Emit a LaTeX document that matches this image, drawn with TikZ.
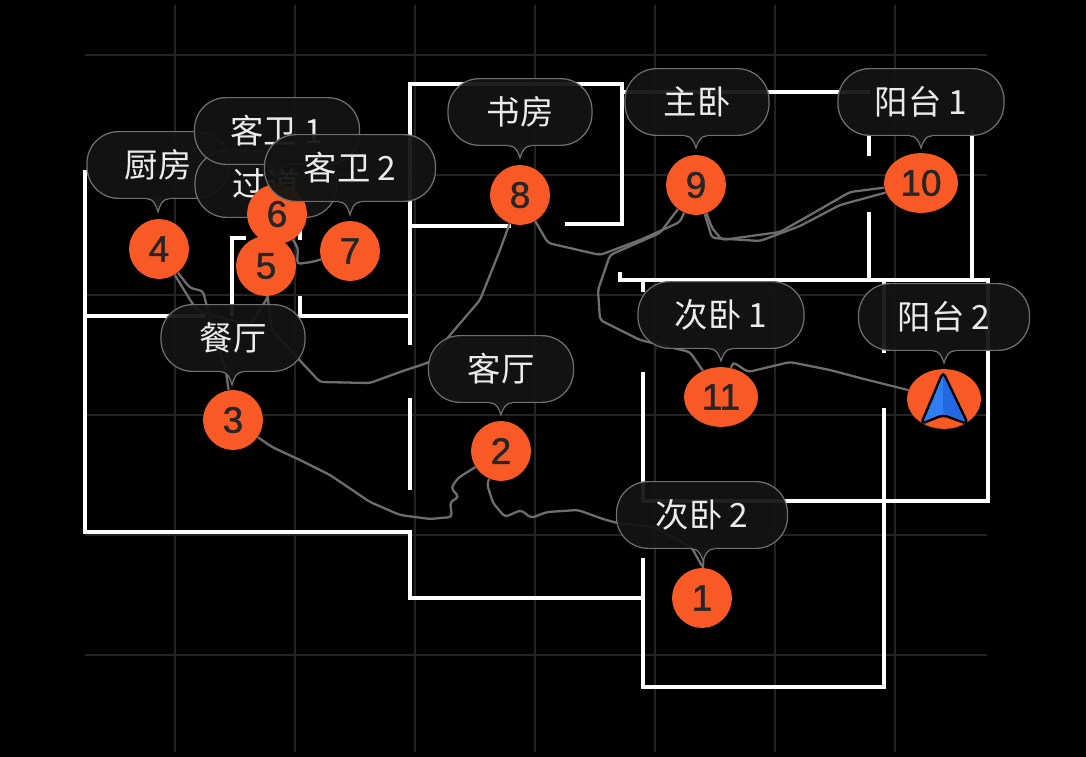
\documentclass[tikz,border=0pt]{standalone}
\usepackage{fontspec}
\setmainfont{Noto Sans CJK SC}
\newfontfamily\numfont[FakeBold=1.3]{Liberation Sans}
\usetikzlibrary{backgrounds,shapes.geometric}
\definecolor{gridgray}{HTML}{232323}
\definecolor{trackgray}{HTML}{6E6E6E}
\definecolor{bubblefill}{HTML}{141414}
\definecolor{bubbleline}{HTML}{707070}
\definecolor{pinorange}{HTML}{F95A25}
\definecolor{navlight}{HTML}{2F7FF2}
\definecolor{navdark}{HTML}{2368E0}

\begin{document}
\begin{tikzpicture}[x=0.02cm,y=-0.02cm]
    \tikzstyle{bubble}=[rectangle,rounded corners=18pt,draw=bubbleline,line width=0.7pt,fill=bubblefill,fill opacity=0.94,text opacity=1,text=white!92!black,minimum height=38pt,inner sep=0pt,font=\fontsize{19}{22}\selectfont]
    \tikzstyle{pin}=[circle,fill=pinorange,minimum size=34pt,inner sep=0pt,text=black!85,font=\numfont\fontsize{21}{24}\selectfont]
    \tikzstyle{widepin}=[pin,ellipse,minimum width=42pt,minimum height=34pt]
    \tikzstyle{wall}=[white,line width=2.3pt]
    \tikzstyle{track}=[trackgray,line width=1.3pt,rounded corners=2pt]

    \useasboundingbox (0,0) rectangle (1086,757);

    % name/text/centre x/centre y/width/tip x/tip y, lowest first
    \foreach \nm/\txt/\x/\y/\w/\tx/\ty in {kitchen/厨房/158/165/142/158/212, hall/过道/266/184/142/266/231, wc1/客卫 1/277/131/165/277/178}{
        \node[bubble,minimum width=\w*0.02cm] (B-\nm) at (\x,\y) {\txt};
        \fill[bubblefill] (\tx-11,\y+32) -- (\tx-11,\y+34) .. controls (\tx-4,\y+34) and (\tx-2,\y+40) .. (\tx,\ty) .. controls (\tx+2,\y+40) and (\tx+4,\y+34) .. (\tx+11,\y+34) -- (\tx+11,\y+32) -- cycle;
        \draw[bubbleline,line width=0.7pt] (\tx-11,\y+34) .. controls (\tx-4,\y+34) and (\tx-2,\y+40) .. (\tx,\ty) .. controls (\tx+2,\y+40) and (\tx+4,\y+34) .. (\tx+11,\y+34);
    }
    \node[pin] (V-6) at (277,214) {6};
    \foreach \nm/\txt/\x/\y/\w/\tx/\ty in {wc2/客卫 2/350/168/171/350/215, dining/餐厅/233/338/144/232/385, study/书房/520/112/144/520/158, master/主卧/697/102/144/696/148, balcony1/阳台 1/921/102/166/921/148, living/客厅/501/369/145/501/415, bed1/次卧 1/721/315/166/721/361, balcony2/阳台 2/944/317/171/944/363, bed2/次卧 2/702/515/171/703/561}{
        \node[bubble,minimum width=\w*0.02cm] (B-\nm) at (\x,\y) {\txt};
        \fill[bubblefill] (\tx-11,\y+32) -- (\tx-11,\y+34) .. controls (\tx-4,\y+34) and (\tx-2,\y+40) .. (\tx,\ty) .. controls (\tx+2,\y+40) and (\tx+4,\y+34) .. (\tx+11,\y+34) -- (\tx+11,\y+32) -- cycle;
        \draw[bubbleline,line width=0.7pt] (\tx-11,\y+34) .. controls (\tx-4,\y+34) and (\tx-2,\y+40) .. (\tx,\ty) .. controls (\tx+2,\y+40) and (\tx+4,\y+34) .. (\tx+11,\y+34);
    }

    \foreach \num/\x/\y in {1/702/598, 2/501/451, 3/233/420, 4/159/249, 5/266/266, 7/350/251, 8/520/195, 9/696/185}
        \node[pin] (V-\num) at (\x,\y) {\num};
    \foreach \num/\x/\y in {10/921/183, 11/721/397}
        \node[widepin] (V-\num) at (\x,\y) {\num};

    \node[widepin] (V-12) at (944,399) {};
    \draw[black,line width=1.4pt,rounded corners=2.5pt,fill=navlight] (943,372) -- (921,424) -- (943,415) -- (968,424) -- cycle;
    \fill[navdark,rounded corners=1.5pt] (943,375) -- (965,422) -- (943,413) -- cycle;

    \begin{scope}[on background layer]
        \fill[black] (0,0) rectangle (1086,757);
        \foreach \x in {175,295,...,895}
            \draw[gridgray,line width=1.6pt] (\x,5) -- (\x,752);
        \foreach \y in {55,175,...,655}
            \draw[gridgray,line width=1.6pt] (85,\y) -- (987,\y);

        % outer walls
        \draw[wall] (85,170) -- (85,532) -- (410,532) -- (410,598) -- (643,598);
        \draw[wall] (643,558) -- (643,687) -- (884,687) -- (884,408);
        \draw[wall] (643,372) -- (643,501) -- (988,501) -- (988,280) -- (620,280) -- (620,272);
        \draw[wall] (85,316) -- (205,316);
        \draw[wall] (300,296) -- (300,316) -- (410,316) -- (410,345);
        \draw[wall] (410,398) -- (410,490);
        \draw[wall] (232,316) -- (232,238) -- (246,238);
        \draw[wall] (300,228) -- (300,240);
        \draw[wall] (410,316) -- (410,84) -- (622,84) -- (622,224) -- (565,224);
        \draw[wall] (410,226) -- (511,226);
        \draw[wall] (622,92) -- (870,92);
        \draw[wall] (869,135) -- (869,156);
        \draw[wall] (869,212) -- (869,280);
        \draw[wall] (972,130) -- (972,280);
        \draw[wall] (643,280) -- (643,292);
        \draw[wall] (884,280) -- (884,353);

        % walked route
        \draw[track] (V-1) -- (703,568) -- (692,548) -- (655,527) -- (617,523) -- (603,519) -- (578,510) -- (547,512) -- (531,518) -- (521,510) -- (505,517) -- (493,503) -- (487,484) -- (V-2);
        \draw[track] (V-2) -- (458,478) -- (451,488) -- (459,497) -- (450,502) -- (452,517) -- (430,519) -- (400,515) -- (370,502) -- (330,475) -- (300,460) -- (272,447) -- (V-3);
        \draw[track] (V-3) -- (226,372) -- (206,303) -- (203,291) -- (190,288) -- (V-4);
        \draw[track] (V-4) -- (192,303) -- (200,312) -- (250,325) -- (268,297) -- (V-5);
        \draw[track] (V-5) -- (V-6);
        \draw[track] (V-6) -- (298,248) -- (297,264) -- (312,262) -- (V-7);
        \draw[track] (V-5) -- (268,300) -- (272,330) -- (305,366) -- (320,382) -- (370,383) -- (400,372) -- (430,362) -- (450,335) -- (480,300) -- (490,275) -- (500,250) -- (V-8);
        \draw[track] (V-8) -- (548,243) -- (600,255) -- (640,240) -- (680,222) -- (V-9);
        \draw[track] (V-9) -- (712,228) -- (722,240) -- (780,232) -- (810,215) -- (850,192) -- (V-10);
        \draw[track] (V-10) -- (840,205) -- (800,226) -- (760,241) -- (712,238) -- (V-9);
        \draw[track] (V-9) -- (660,233) -- (610,255) -- (598,290) -- (600,320) -- (640,340) -- (690,352) -- (V-11);
        \draw[track] (V-11) -- (733,362) -- (748,372) -- (790,362) -- (830,370) -- (860,378) -- (V-12);
    \end{scope}
\end{tikzpicture}
\end{document}
